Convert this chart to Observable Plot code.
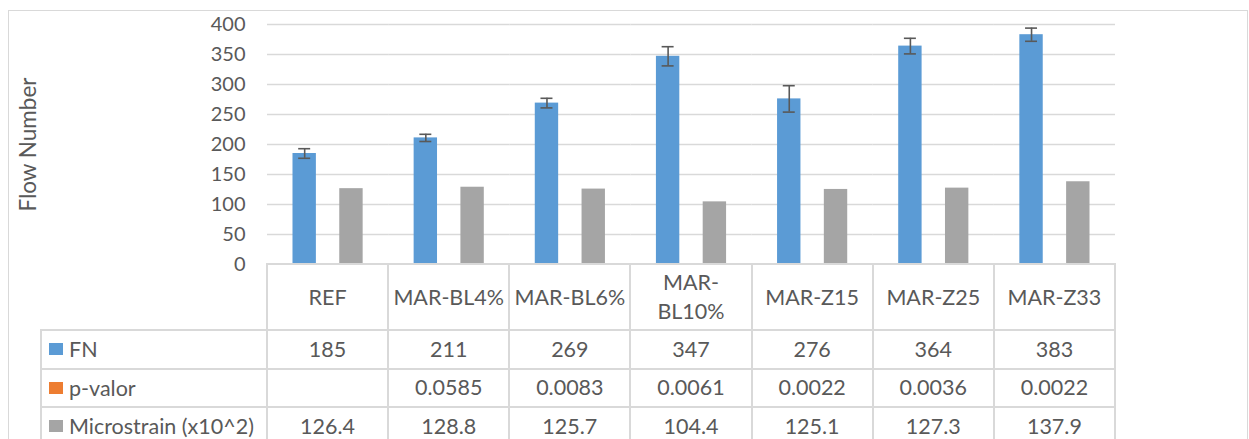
<!DOCTYPE html>
<html><head><meta charset="utf-8">
<script src="https://cdn.jsdelivr.net/npm/d3@7"></script>
<script src="https://cdn.jsdelivr.net/npm/@observablehq/plot@0.6"></script>
<style>
body{margin:0;background:#fff;font-family:Lato,sans-serif;color:#595959}
#wrap{position:relative;width:1249px;height:439px;overflow:hidden;background:#fff}
#frame{position:absolute;left:8px;top:10px;width:1240px;height:520px;border:1.5px solid #d9d9d9;box-sizing:border-box}
#chart{position:absolute;left:0;top:0}
.ln{position:absolute;background:#d9d9d9}
.txt{position:absolute;display:flex;align-items:center;justify-content:center;text-align:center;font-size:21.5px;line-height:29px;white-space:pre;color:#595959}
.lab{position:absolute;display:flex;align-items:center;font-size:21.5px;white-space:pre;color:#595959}
.sw{display:inline-block;width:14px;height:12px;margin-right:6px}
</style></head><body>
<div id="wrap"><div id="frame"></div><div id="chart"></div><div id="table"></div></div>
<script>
const categories = ["REF","MAR-BL4%","MAR-BL6%","MAR-BL10%","MAR-Z15","MAR-Z25","MAR-Z33"];
const headerLabels = ["REF","MAR-BL4%","MAR-BL6%","MAR-\nBL10%","MAR-Z15","MAR-Z25","MAR-Z33"];
const seriesNames = ["FN","p-valor","Microstrain (x10^2)"];
const seriesColors = ["#5b9bd5","#ed7d31","#a5a5a5"];
const fnValues = [185,211,269,347,276,364,383];
const fnErrors = [8,6,8,16,22,13,11];
const pValues = [null,0.0585,0.0083,0.0061,0.0022,0.0036,0.0022];
const pLabels = ["","0.0585","0.0083","0.0061","0.0022","0.0036","0.0022"];
const microValues = [126.4,128.8,125.7,104.4,125.1,127.3,137.9];
const microLabels = ["126.4","128.8","125.7","104.4","125.1","127.3","137.9"];
const yTicks = [0,50,100,150,200,250,300,350,400];
const yLabel = "Flow Number";

const rows = [];
categories.forEach((c,i)=>{
  rows.push({cat:c, series:seriesNames[0], value:fnValues[i]});
  if (pValues[i] != null) rows.push({cat:c, series:seriesNames[1], value:pValues[i]});
  rows.push({cat:c, series:seriesNames[2], value:microValues[i]});
});
const errs = categories.map((c,i)=>({cat:c, lo:fnValues[i]-fnErrors[i], hi:fnValues[i]+fnErrors[i]}));

const chart = Plot.plot({
  width:1249, height:266,
  marginLeft:267, marginRight:134, marginTop:24, marginBottom:2,
  style:{fontFamily:"Lato, sans-serif", fontSize:"20px", color:"#595959", background:"transparent", overflow:"visible"},
  fx:{domain:categories, paddingInner:0, paddingOuter:0, axis:null, round:false},
  x:{domain:seriesNames, paddingInner:0, paddingOuter:1.09, axis:null, round:false},
  y:{domain:[0,400], axis:null},
  color:{domain:seriesNames, range:seriesColors},
  marks:[
    Plot.ruleY(yTicks.filter(v=>v>0), {stroke:"#d9d9d9", strokeWidth:1.6}),
    Plot.axisY({ticks:yTicks, tickSize:0, tickPadding:22, label:null, fontSize:20}),
    Plot.text([yLabel], {fx:()=>categories[0], text:d=>d, frameAnchor:"left", textAnchor:"middle", rotate:-90, dx:-239, fontSize:22.5, fill:"#595959"}),
    Plot.barY(rows, {fx:"cat", x:"series", y:"value", fill:"series"}),
    Plot.ruleX(errs, {fx:"cat", x:()=>seriesNames[0], y1:"lo", y2:"hi", stroke:"#595959", strokeWidth:1.6}),
    Plot.tickY(errs, {fx:"cat", x:()=>seriesNames[0], y:"lo", stroke:"#595959", strokeWidth:1.6, insetLeft:5.7, insetRight:5.7}),
    Plot.tickY(errs, {fx:"cat", x:()=>seriesNames[0], y:"hi", stroke:"#595959", strokeWidth:1.6, insetLeft:5.7, insetRight:5.7})
  ]
});
document.getElementById("chart").appendChild(chart);

// data table below the chart, aligned with Plot's fx scale
const fx = chart.scale("fx");
const bw = fx.bandwidth;
const left = c => (typeof fx.apply === "function") ? fx.apply(c) : 267 + categories.indexOf(c)*bw;
const x0 = left(categories[0]), x1 = left(categories[categories.length-1]) + bw;
const labelLeft = 41;
const rowEdges = [264, 330, 368.5, 407, 445.5];
const tbl = document.getElementById("table");
function line(x,y,w,h){const d=document.createElement("div");d.className="ln";Object.assign(d.style,{left:x+"px",top:y+"px",width:w+"px",height:h+"px"});tbl.appendChild(d);}
function text(x,y,w,h,t){const d=document.createElement("div");d.className="txt";Object.assign(d.style,{left:x+"px",top:y+"px",width:w+"px",height:h+"px"});d.textContent=t;tbl.appendChild(d);}
line(x0-1, rowEdges[0]-1, x1-x0+2, 2);
for (let r=1;r<rowEdges.length;r++) line(labelLeft-1, rowEdges[r]-1, x1-labelLeft+2, 2);
line(labelLeft-1, rowEdges[1]-1, 2, rowEdges[4]-rowEdges[1]+2);
categories.forEach(c=>line(left(c)-1, rowEdges[0]-1, 2, rowEdges[4]-rowEdges[0]+2));
line(x1-1, rowEdges[0]-1, 2, rowEdges[4]-rowEdges[0]+2);
categories.forEach((c,i)=>text(left(c), rowEdges[0], bw, rowEdges[1]-rowEdges[0], headerLabels[i]));
const rowLabels = [fnValues.map(String), pLabels, microLabels];
rowLabels.forEach((vals,r)=>{
  const y=rowEdges[r+1], h=rowEdges[r+2]-rowEdges[r+1];
  categories.forEach((c,i)=>text(left(c), y, bw, h, vals[i]));
  const d=document.createElement("div");d.className="lab";
  Object.assign(d.style,{left:(labelLeft+8)+"px",top:y+"px",height:h+"px"});
  const sw=document.createElement("span");sw.className="sw";sw.style.background=seriesColors[r];
  d.appendChild(sw);d.appendChild(document.createTextNode(seriesNames[r]));
  tbl.appendChild(d);
});
</script>
</body></html>
